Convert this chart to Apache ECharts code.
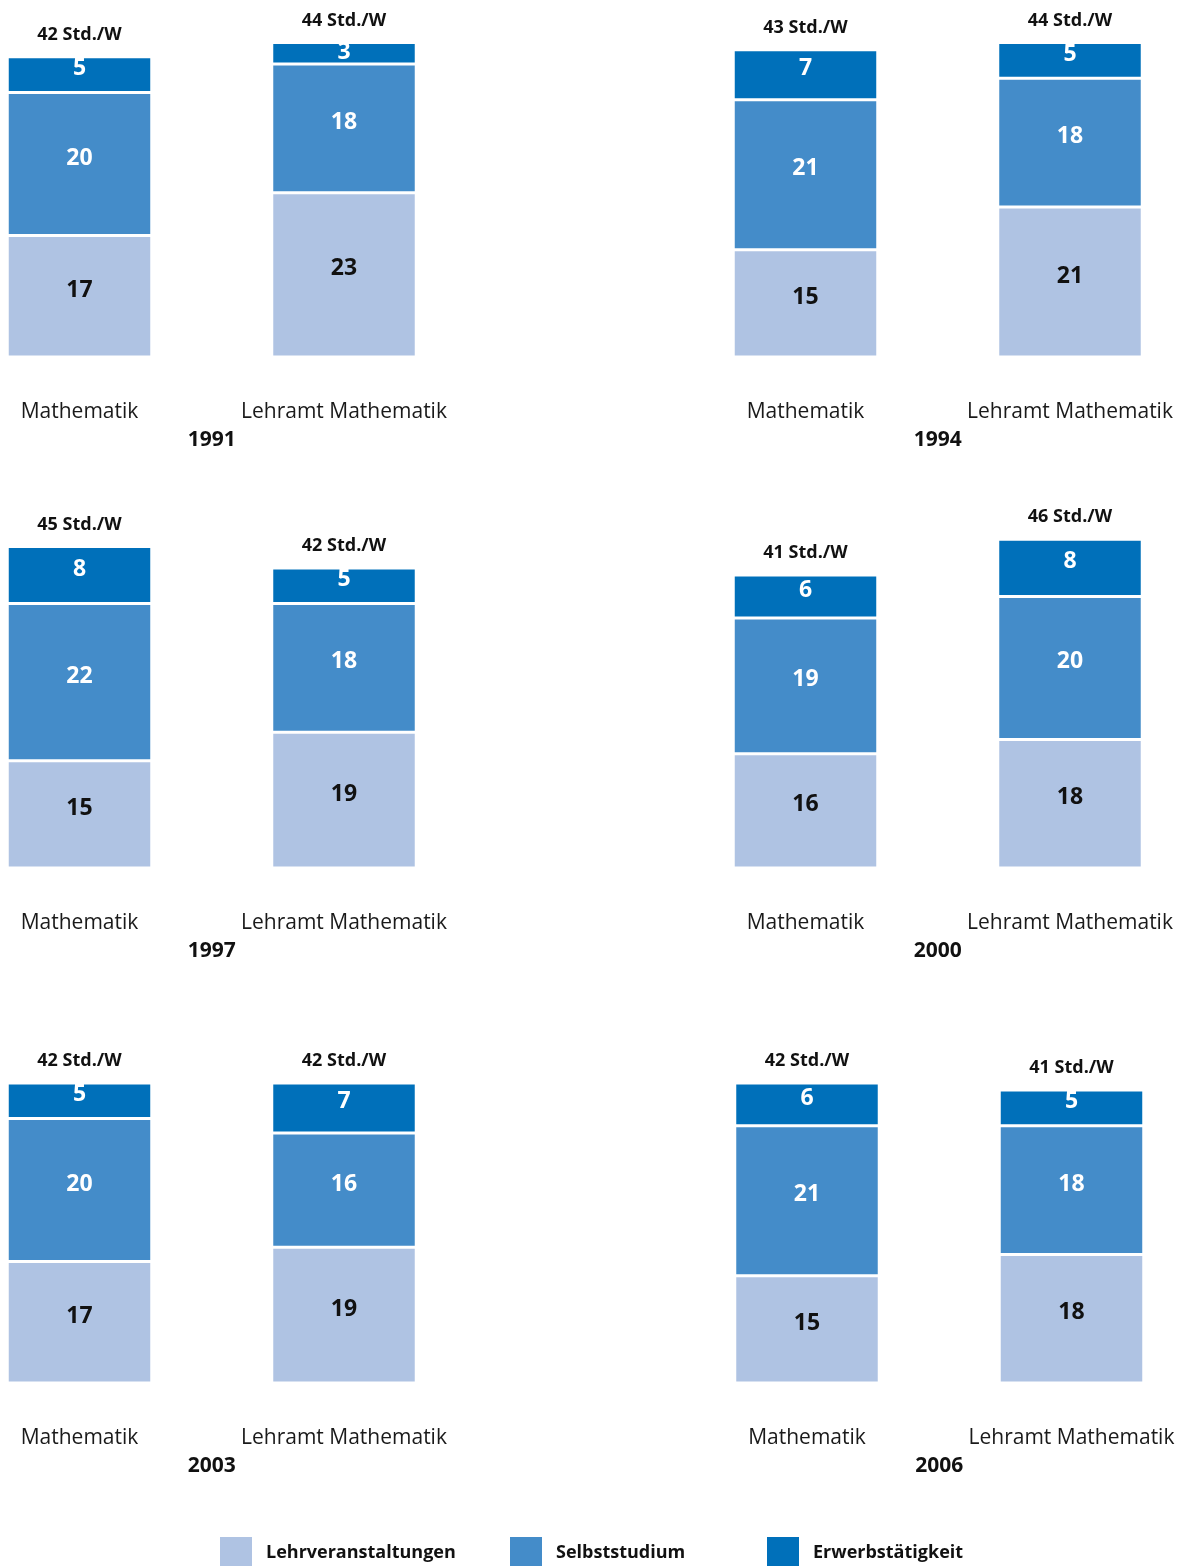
<!DOCTYPE html>
<html>
<head>
<meta charset="utf-8">
<title>Studienaufwand Mathematik</title>
<script src="https://cdn.jsdelivr.net/npm/echarts@6/dist/echarts.min.js"></script>
<style>
  html, body { margin: 0; padding: 0; background: #fff; }
  #chart { width: 1189px; height: 1566px; }
</style>
</head>
<body>
<div id="chart"></div>
<script>
// Wochenstunden je Studiengang und Erhebungsjahr
const years = ['1991', '1994', '1997', '2000', '2003', '2006'];
const programs = ['Mathematik', 'Lehramt Mathematik'];
const lehrveranstaltungen = [[17, 23], [15, 21], [15, 19], [16, 18], [17, 19], [15, 18]];
const selbststudium       = [[20, 18], [21, 18], [22, 18], [19, 20], [20, 16], [21, 18]];
const erwerbstaetigkeit   = [[5, 3], [7, 5], [8, 5], [6, 8], [5, 7], [6, 5]];
const seriesNames = ['Lehrveranstaltungen', 'Selbststudium', 'Erwerbstätigkeit'];

const colors = ['#AFC3E3', '#448CC9', '#0070BA'];
const labelColors = ['#111111', '#ffffff', '#ffffff'];
const FONT = '"Open Sans", "Noto Sans", sans-serif';

const totals = years.map((_, i) => programs.map((_, j) =>
  lehrveranstaltungen[i][j] + selbststudium[i][j] + erwerbstaetigkeit[i][j]));

// panel placement: 3 rows x 2 columns; the category ticks sit at the axis ends
const rowTops = [14, 525, 1040];
const colLefts = [[79.5, 805.5], [79.5, 805.5], [79.5, 807]];
const GRID_W = 264.5, GRID_H = 343, Y_MAX = 48, BAR_W = 144.5;

const grid = [], xAxis = [], yAxis = [], series = [];
years.forEach((year, i) => {
  const row = Math.floor(i / 2), col = i % 2;
  grid.push({ left: colLefts[row][col], top: rowTops[row], width: GRID_W, height: GRID_H });
  xAxis.push({
    gridIndex: i, type: 'category', data: programs, boundaryGap: false,
    axisLine: { show: false }, axisTick: { show: false }, splitLine: { show: false },
    axisLabel: { interval: 0, margin: 45, fontSize: 21, color: '#1a1a1a', fontFamily: FONT },
    name: year, nameLocation: 'middle', nameGap: 73,
    nameTextStyle: { fontSize: 21, fontWeight: 'bold', color: '#111', fontFamily: FONT }
  });
  yAxis.push({ gridIndex: i, type: 'value', min: 0, max: Y_MAX, show: false, splitLine: { show: false } });

  [lehrveranstaltungen, selbststudium, erwerbstaetigkeit].forEach((arr, k) => {
    series.push({
      name: seriesNames[k], type: 'bar', stack: 'p' + i, clip: false,
      xAxisIndex: i, yAxisIndex: i, barWidth: BAR_W,
      // thin segments keep their label centred so it stays inside the bar
      data: arr[i].map(v => v < 4 ? { value: v, label: { offset: [0, -1] } } : v),
      itemStyle: { color: colors[k], borderColor: '#ffffff', borderWidth: 1.5 },
      label: {
        show: true, position: 'inside', offset: [0, -6],
        color: labelColors[k], fontSize: 23, fontWeight: 'bold', fontFamily: FONT
      },
      emphasis: { disabled: true }
    });
  });

  // Gesamtstunden über jedem Balken
  series.push({
    name: 'Gesamt', type: 'bar', stack: 'p' + i, clip: false,
    xAxisIndex: i, yAxisIndex: i, barWidth: BAR_W,
    data: programs.map(() => 0),
    itemStyle: { color: 'rgba(0,0,0,0)', borderWidth: 0 },
    label: {
      show: true, position: 'top', distance: 13,
      formatter: p => totals[i][p.dataIndex] + ' Std./W',
      color: '#111', fontSize: 18, fontWeight: 'bold', fontFamily: FONT
    },
    silent: true, emphasis: { disabled: true }
  });
});

const legendLefts = [218, 508, 765];
const legend = seriesNames.map((name, k) => ({
  data: [name], left: legendLefts[k], top: 1535, padding: 0,
  icon: 'rect', itemWidth: 34, itemHeight: 34, itemGap: 0,
  selectedMode: false,
  textStyle: { fontSize: 18, fontWeight: 'bold', color: '#111', fontFamily: FONT, padding: [0, 0, 0, 8] }
}));

const chart = echarts.init(document.getElementById('chart'), null, { renderer: 'canvas' });
chart.setOption({
  animation: false,
  color: colors,
  grid, xAxis, yAxis, series, legend
});
</script>
</body>
</html>
